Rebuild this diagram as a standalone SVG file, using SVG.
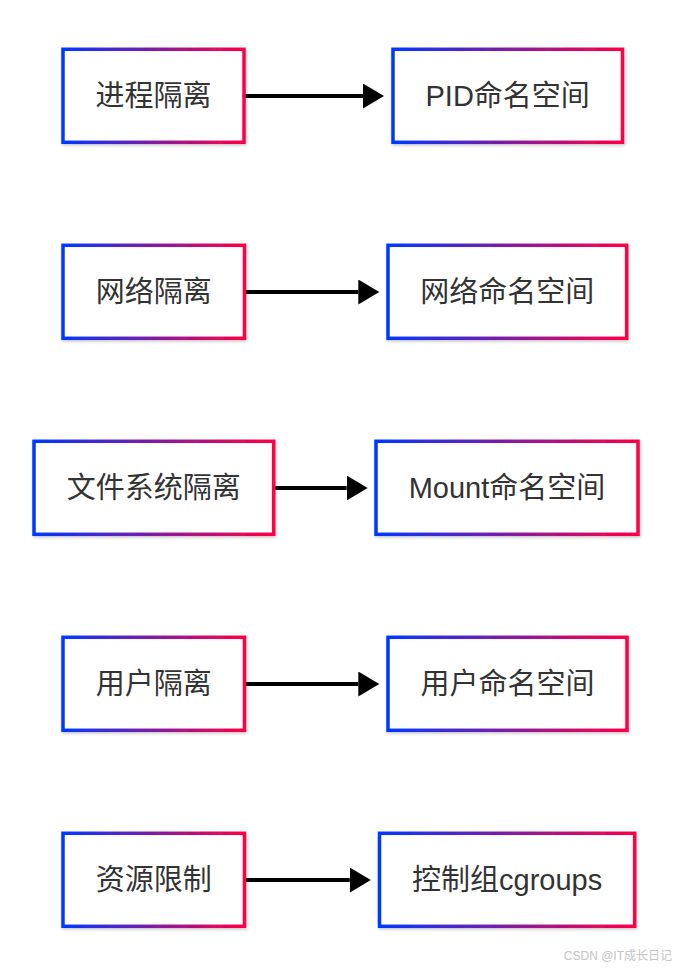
<svg xmlns="http://www.w3.org/2000/svg" width="678" height="972" viewBox="0 0 678 972">
  <defs>
    <linearGradient id="border" x1="0" y1="0" x2="1" y2="0">
      <stop offset="0" stop-color="#0038ff"/>
      <stop offset="1" stop-color="#ff0046"/>
    </linearGradient>
    <filter id="shadow" x="-10%" y="-10%" width="120%" height="130%">
      <feDropShadow dx="1" dy="1.5" stdDeviation="1.5" flood-color="#000" flood-opacity="0.22"/>
    </filter>
    <marker id="arrow" markerUnits="userSpaceOnUse" markerWidth="22" markerHeight="26" refX="0" refY="12.5" orient="auto">
      <path d="M0,0 L21,12.5 L0,25 Z" fill="#000"/>
    </marker>
  </defs>
  <style>
    .box { fill: #ffffff; stroke: url(#border); stroke-width: 3.5; filter: url(#shadow); }
    .label { font-family: "Liberation Sans", "Noto Sans CJK SC", sans-serif; font-size: 29px; fill: #333333; text-anchor: middle; }
    .edge { stroke: #000; stroke-width: 4; fill: none; marker-end: url(#arrow); }
    .wm { font-family: "Liberation Sans", "Noto Sans CJK SC", sans-serif; font-size: 12px; fill: #c4c4c4; text-anchor: end; }
  </style>
  <rect width="678" height="972" fill="#ffffff"/>

  <g id="connectors">
    <path class="edge" d="M244,96 L363,96"/>
    <path class="edge" d="M244.5,292 L358.3,292"/>
    <path class="edge" d="M273.7,488 L346.7,488"/>
    <path class="edge" d="M244.5,684 L358.3,684"/>
    <path class="edge" d="M244.5,880 L349.8,880"/>
  </g>

  <g id="node-pid-isolation">
    <rect class="box" x="63" y="49.3" width="181" height="93"/>
    <text class="label" x="153.5" y="106.3">进程隔离</text>
  </g>
  <g id="node-pid-ns">
    <rect class="box" x="393" y="49.3" width="229.5" height="93"/>
    <text class="label" x="507.7" y="106.3">PID命名空间</text>
  </g>

  <g id="node-net-isolation">
    <rect class="box" x="63" y="245.3" width="181.5" height="93"/>
    <text class="label" x="153.7" y="302.3">网络隔离</text>
  </g>
  <g id="node-net-ns">
    <rect class="box" x="388" y="245.3" width="238.7" height="93"/>
    <text class="label" x="507.3" y="302.3">网络命名空间</text>
  </g>

  <g id="node-fs-isolation">
    <rect class="box" x="34" y="441.3" width="239.7" height="93"/>
    <text class="label" x="153.8" y="498.3">文件系统隔离</text>
  </g>
  <g id="node-mount-ns">
    <rect class="box" x="376" y="441.3" width="262" height="93"/>
    <text class="label" x="507" y="498.3">Mount命名空间</text>
  </g>

  <g id="node-user-isolation">
    <rect class="box" x="63" y="637.3" width="181.5" height="93"/>
    <text class="label" x="153.7" y="694.3">用户隔离</text>
  </g>
  <g id="node-user-ns">
    <rect class="box" x="388" y="637.3" width="239" height="93"/>
    <text class="label" x="507.5" y="694.3">用户命名空间</text>
  </g>

  <g id="node-resource-limit">
    <rect class="box" x="63" y="833.3" width="181.5" height="93"/>
    <text class="label" x="153.7" y="890.3">资源限制</text>
  </g>
  <g id="node-cgroups">
    <rect class="box" x="379.5" y="833.3" width="255.2" height="93"/>
    <text class="label" x="507.1" y="890.3">控制组cgroups</text>
  </g>

  <text class="wm" x="672" y="960">CSDN @IT成长日记</text>
</svg>
